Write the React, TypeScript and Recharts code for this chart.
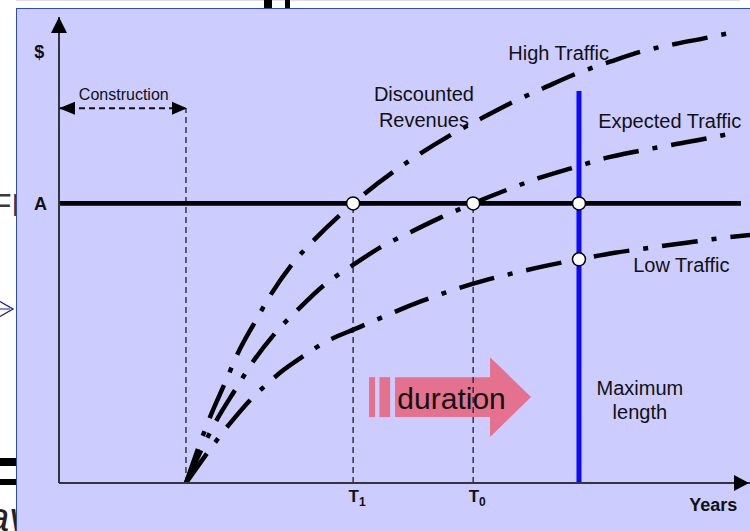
import React from 'react';
import {
  ComposedChart,
  Line,
  XAxis,
  YAxis,
  ReferenceLine,
  ReferenceDot,
  ReferenceArea,
} from 'recharts';

const FONT = '"Liberation Sans", Arial, sans-serif';
const INK = '#111';
const AXIS = '#34343f';

// years from the start of construction vs discounted revenue ($ index)
const highYears = [2.94, 3.5, 3.84, 4.15, 4.54, 4.93, 5.41, 5.89, 6.81, 8.4, 9.09, 9.79, 10.52, 11.21, 11.99, 12.76, 13.49, 14.26, 15.03, 15.5];
const highRevenue = [0, 14.2, 21.4, 28, 34.6, 40.8, 47.1, 52.0, 60, 70.9, 74.8, 78.3, 81.8, 84.7, 87.9, 90.4, 92.6, 94.2, 95.6, 96.5];

const expectedYears = [2.94, 3.65, 4.08, 4.49, 5.0, 5.54, 6.14, 6.78, 7.43, 8.13, 8.82, 9.59, 10.37, 11.1, 11.99, 12.64, 13.45, 14.21, 15.03, 15.45];
const expectedRevenue = [0, 13.5, 20, 26, 32.1, 37.3, 42.5, 46.6, 50.5, 53.8, 56.9, 60, 62.9, 65.4, 67.9, 69.7, 71.3, 72.6, 74, 74.8];

const lowYears = [2.94, 3.96, 4.5, 4.79, 5.08, 5.75, 6.08, 6.97, 8.36, 9.9, 10.56, 11.32, 12.04, 12.87, 13.7, 14.49, 15.29, 16];
const lowRevenue = [0, 12.8, 18.5, 21, 23.4, 27.8, 29.8, 33.5, 38.9, 43.6, 45.1, 46.7, 48, 49.4, 50.5, 51.5, 52.5, 53.2];

// time markers
const constructionEnd = 2.94;
const t1 = 6.81;
const t0 = 9.59;
const maxLength = 12.04;
const timeTicks = [t1, t0];
const timeTickSubs = ['1', '0'];

// revenue levels
const levelA = 60;
const lowAtMax = 48;
const constructionLevel = 80.4;
const maxLengthTop = 84.1;
const levelLineEnd = 15.79;

// duration arrow extent
const durationFrom = 7.18;
const durationTo = 10.93;
const durationBottom = 9.87;
const durationTop = 27;

const toPoints = (xs: number[], ys: number[]) => xs.map((x, i) => ({ x, y: ys[i] }));

const curves = [
  { key: 'high', data: toPoints(highYears, highRevenue) },
  { key: 'expected', data: toPoints(expectedYears, expectedRevenue) },
  { key: 'low', data: toPoints(lowYears, lowRevenue) },
];

const pts = (list: number[][]) => list.map((p) => p.join(',')).join(' ');

function TimeTick({ x, y, payload }: any) {
  const i = timeTicks.indexOf(payload.value);
  return (
    <text
      x={x + 4}
      y={y + 19}
      textAnchor="middle"
      fill={INK}
      style={{ fontFamily: FONT, fontWeight: 'bold', fontSize: 17 }}
    >
      T
      <tspan dy={4} style={{ fontSize: 12 }}>
        {timeTickSubs[i]}
      </tspan>
    </text>
  );
}

function LevelTick({ x, y }: any) {
  return (
    <text
      x={x}
      y={y + 6.5}
      textAnchor="end"
      fill={INK}
      style={{ fontFamily: FONT, fontWeight: 'bold', fontSize: 18 }}
    >
      A
    </text>
  );
}

function DurationArrow({ x, y, width, height }: any) {
  const fx = (a: number) => x + a * width;
  const fy = (b: number) => y + b * height;
  const top = fy(0.25);
  const bot = fy(0.75);
  return (
    <g fill="#e76781" fillOpacity={0.9}>
      <rect x={fx(0)} y={top} width={fx(0.037) - fx(0)} height={bot - top} />
      <rect x={fx(0.064)} y={top} width={fx(0.13) - fx(0.064)} height={bot - top} />
      <polygon
        points={pts([
          [fx(0.16), top],
          [fx(0.747), top],
          [fx(0.747), fy(0)],
          [fx(1), fy(0.5)],
          [fx(0.747), fy(1)],
          [fx(0.747), bot],
          [fx(0.16), bot],
        ])}
      />
    </g>
  );
}

// free text placed at chart coordinates
function note(
  id: string,
  x: number,
  y: number,
  lines: string[],
  opts: { size?: number; weight?: string; gap?: number } = {}
) {
  const { size = 20, weight = 'normal', gap = 24 } = opts;
  return (
    <ReferenceDot
      key={id}
      x={x}
      y={y}
      r={0}
      ifOverflow="visible"
      shape={(p: any) => (
        <text
          x={p.cx}
          y={p.cy}
          textAnchor="middle"
          fill={INK}
          style={{ fontFamily: FONT, fontSize: size, fontWeight: weight }}
        >
          {lines.map((l, i) => (
            <tspan key={i} x={p.cx} dy={i === 0 ? 0 : gap}>
              {l}
            </tspan>
          ))}
        </text>
      )}
    />
  );
}

const dashed = { stroke: '#2a2a35', strokeWidth: 1.4, strokeDasharray: '6 4' };

export default function App() {
  return (
    <div style={{ position: 'absolute', left: 0, top: 0, width: 750, height: 531, background: '#fff', overflow: 'hidden' }}>
      <svg width={750} height={531} style={{ position: 'absolute', left: 0, top: 0 }}>
        <line x1={16} y1={0.5} x2={740} y2={0.5} stroke="#dcdcec" strokeWidth={1} />
        <rect x={264} y={0} width={8} height={8} fill="#000" />
        <rect x={285} y={0} width={5} height={8} fill="#000" />
        <text x={-8} y={216} fontFamily={FONT} fontSize={32} fill="#3a3a3a">FR</text>
        <polyline points="0,301.5 13,309 0,316.5" fill="none" stroke="#1c1c8c" strokeWidth={1.3} />
        <line x1={0} y1={309} x2={10} y2={309} stroke="#1c1c8c" strokeWidth={1} />
        <rect x={0} y={458} width={16} height={8} fill="#000" />
        <rect x={0} y={479} width={16} height={6} fill="#000" />
        <text x={-13} y={531} fontFamily={FONT} fontStyle="italic" fontSize={40} fill="#222">av</text>
      </svg>
      <div
        style={{
          position: 'absolute',
          left: 16,
          top: 7.5,
          width: 734,
          height: 524,
          background: '#ccccff',
          borderLeft: '1.5px solid #2b4fb0',
          borderTop: '1.5px solid #2b4fb0',
        }}
      />
      <div style={{ position: 'absolute', left: 0, top: 0 }}>
        <ComposedChart width={750} height={531} margin={{ top: 17, right: 0, bottom: 0, left: 0 }}>
          <XAxis
            type="number"
            dataKey="x"
            domain={[0, 16]}
            height={48}
            ticks={timeTicks}
            tick={<TimeTick />}
            tickLine={false}
            tickSize={0}
            tickMargin={0}
            axisLine={{ stroke: AXIS, strokeWidth: 2 }}
          />
          <YAxis
            type="number"
            domain={[0, 100]}
            width={59}
            ticks={[levelA]}
            tick={<LevelTick />}
            tickLine={false}
            tickSize={0}
            tickMargin={12}
            axisLine={{ stroke: AXIS, strokeWidth: 2 }}
          />

          <ReferenceLine segment={[{ x: constructionEnd, y: 0 }, { x: constructionEnd, y: constructionLevel }]} {...dashed} />
          <ReferenceLine segment={[{ x: t1, y: 0 }, { x: t1, y: levelA }]} {...dashed} />
          <ReferenceLine segment={[{ x: t0, y: 0 }, { x: t0, y: levelA }]} {...dashed} />
          <ReferenceLine
            segment={[{ x: 0, y: constructionLevel }, { x: constructionEnd, y: constructionLevel }]}
            stroke="#111"
            strokeWidth={2}
            strokeDasharray="6 4"
          />

          <ReferenceArea
            x1={durationFrom}
            x2={durationTo}
            y1={durationBottom}
            y2={durationTop}
            shape={<DurationArrow />}
          />

          {curves.map((c) => (
            <Line
              key={c.key}
              data={c.data}
              dataKey="y"
              type="monotone"
              stroke="#000"
              strokeWidth={4.5}
              strokeDasharray="36 14 5 14"
              dot={false}
              activeDot={false}
              isAnimationActive={false}
            />
          ))}

          <ReferenceLine segment={[{ x: 0, y: levelA }, { x: levelLineEnd, y: levelA }]} stroke="#000" strokeWidth={4.7} />
          <ReferenceLine segment={[{ x: maxLength, y: 0 }, { x: maxLength, y: maxLengthTop }]} stroke="#0a0aff" strokeWidth={5} />

          {/* axis and construction arrowheads */}
          <ReferenceDot
            x={0}
            y={100}
            ifOverflow="visible"
            shape={(p: any) => <polygon points={pts([[p.cx, p.cy], [p.cx - 8, p.cy + 16], [p.cx + 8, p.cy + 16]])} fill="#000" />}
          />
          <ReferenceDot
            x={16}
            y={0}
            ifOverflow="visible"
            shape={(p: any) => <polygon points={pts([[p.cx - 1, p.cy], [p.cx - 16, p.cy - 8], [p.cx - 16, p.cy + 8]])} fill="#000" />}
          />
          <ReferenceDot
            x={0}
            y={constructionLevel}
            ifOverflow="visible"
            shape={(p: any) => <polygon points={pts([[p.cx, p.cy], [p.cx + 16, p.cy - 6.5], [p.cx + 16, p.cy + 6.5]])} fill="#000" />}
          />
          <ReferenceDot
            x={constructionEnd}
            y={constructionLevel}
            ifOverflow="visible"
            shape={(p: any) => <polygon points={pts([[p.cx + 1, p.cy], [p.cx - 14, p.cy - 6.5], [p.cx - 14, p.cy + 6.5]])} fill="#000" />}
          />

          {/* crossing points */}
          <ReferenceDot x={t1} y={levelA} r={6.5} fill="#fff" stroke="#000" strokeWidth={1.5} />
          <ReferenceDot x={t0} y={levelA} r={6.5} fill="#fff" stroke="#000" strokeWidth={1.5} />
          <ReferenceDot x={maxLength} y={levelA} r={6.5} fill="#fff" stroke="#000" strokeWidth={1.5} />
          <ReferenceDot x={maxLength} y={lowAtMax} r={6.5} fill="#fff" stroke="#000" strokeWidth={1.5} />

          {note('dollar', -0.46, 91.2, ['$'], { size: 18, weight: 'bold' })}
          {note('construction', 1.5, 82.1, ['Construction'], { size: 16 })}
          {note('discounted', 8.45, 82, ['Discounted', 'Revenues'], { gap: 26.5 })}
          {note('high', 11.57, 90.8, ['High Traffic'])}
          {note('expected', 14.14, 76.1, ['Expected Traffic'])}
          {note('low', 14.41, 45.2, ['Low Traffic'])}
          {note('max', 13.45, 18.9, ['Maximum', 'length'])}
          {note('duration', 9.09, 15.8, ['duration'], { size: 30 })}
          {note('years', 15.15, -6, ['Years'], { size: 18, weight: 'bold' })}
        </ComposedChart>
      </div>
    </div>
  );
}
